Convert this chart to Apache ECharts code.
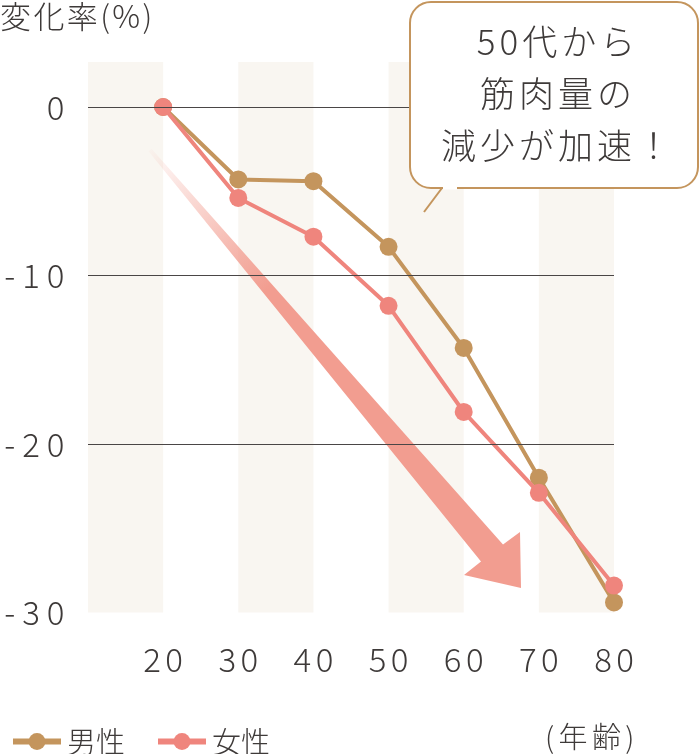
<!DOCTYPE html>
<html>
<head>
<meta charset="utf-8">
<script src="https://cdn.jsdelivr.net/npm/echarts@6/dist/echarts.min.js"></script>
<style>
html,body{margin:0;padding:0;background:#fff;}
#chart{width:700px;height:754px;}
</style>
</head>
<body>
<div id="chart"></div>
<script>
// ---- data ----
var ages = [20, 30, 40, 50, 60, 70, 80];
var maleValues = [0, -4.3, -4.4, -8.3, -14.3, -22.0, -29.4];
var femaleValues = [0, -5.4, -7.7, -11.8, -18.1, -22.9, -28.4];
var yGridTicks = [0, -10, -20];
var seriesNames = ['男性', '女性'];
var yTitle = '変化率(%)';
var xTitle = '(年齢)';
var calloutText = '50代から\n筋肉量の\n減少が加速！';

var FONT = '"Noto Sans CJK JP", "Noto Sans", sans-serif';
var TEXT = '#3e3a39';
var MALE = '#c4955d';
var FEMALE = '#ef857d';
var ARROW = '242,157,144';

// letter-spaced rich text helper
function spaced(str, key) {
  return String(str).split('\n').map(function (line) {
    return line.split('').map(function (c) { return '{' + key + '|' + c + '}'; }).join('');
  }).join('\n');
}

var chart = echarts.init(document.getElementById('chart'));

function pairs(vals) { return ages.map(function (a, i) { return [a, vals[i]]; }); }

var option = {
  animation: false,
  backgroundColor: '#fff',
  grid: { left: 88, right: 86, top: 62, bottom: 141.5, containLabel: false, outerBoundsMode: 'none' },
  xAxis: {
    type: 'value', min: 10, max: 80, interval: 10,
    axisLine: { show: false }, axisTick: { show: false }, splitLine: { show: false },
    splitArea: { show: true, areaStyle: { color: ['#f9f6f1', 'rgba(255,255,255,0)'] } },
    axisLabel: {
      margin: 30, color: TEXT, fontSize: 33, fontFamily: FONT, fontWeight: 300,
      formatter: function (v) { return v === 10 ? '' : spaced(v, 'd'); },
      rich: { d: { fontSize: 33, fontFamily: FONT, fontWeight: 300, color: TEXT, padding: [0, 2.2] } }
    }
  },
  yAxis: {
    type: 'value', min: -30, max: 2.67, interval: 10,
    axisLine: { show: false }, axisTick: { show: false }, splitLine: { show: false },
    axisLabel: {
      margin: 20, color: TEXT, fontSize: 33, fontFamily: FONT, fontWeight: 300,
      showMaxLabel: false,
      formatter: function (v) { return (v > 0) ? '' : spaced(v, 'd'); },
      rich: { d: { fontSize: 33, fontFamily: FONT, fontWeight: 300, color: TEXT, padding: [0, 3.5] } }
    }
  },
  legend: {
    data: seriesNames, left: 5, top: 722, itemWidth: 48, itemHeight: 21, itemGap: 30,
    lineStyle: { width: 6 },
    textStyle: { color: TEXT, fontSize: 29, fontFamily: FONT, fontWeight: 300, padding: [0, 0, 0, 1] }
  },
  series: [
    {
      name: seriesNames[0], type: 'line', data: pairs(maleValues),
      symbol: 'circle', symbolSize: 18, z: 3,
      lineStyle: { color: MALE, width: 4 }, itemStyle: { color: MALE },
      markLine: {
        silent: true, symbol: 'none', label: { show: false },
        lineStyle: { color: '#4a4646', width: 1, type: 'solid' },
        data: yGridTicks.map(function (t) { return { yAxis: t }; })
      }
    },
    {
      name: seriesNames[1], type: 'line', data: pairs(femaleValues),
      symbol: 'circle', symbolSize: 18, z: 4,
      lineStyle: { color: FEMALE, width: 4 }, itemStyle: { color: FEMALE }
    }
  ],
  graphic: [
    {
      type: 'text', left: 0, top: 1,
      style: {
        text: spaced(yTitle, 't'), fill: TEXT, font: '300 31px ' + FONT,
        rich: { t: { fontSize: 31, fontFamily: FONT, fontWeight: 300, fill: TEXT, padding: [0, 1.2] } }
      }
    },
    {
      type: 'text', left: 545, top: 722,
      style: {
        text: spaced(xTitle, 't'), fill: TEXT, font: '300 29px ' + FONT,
        rich: { t: { fontSize: 29, fontFamily: FONT, fontWeight: 300, fill: TEXT, padding: [0, 2.2] } }
      }
    },
    {
      type: 'polygon', z: 1, silent: true,
      shape: { points: [[151.5, 148.7], [503, 544.5], [520, 532], [521, 588], [464, 575], [481, 561.5], [148.5, 151.3]] },
      style: {
        fill: new echarts.graphic.LinearGradient(0, 0, 1, 1, [
          { offset: 0, color: 'rgba(' + ARROW + ',0.03)' },
          { offset: 0.32, color: 'rgba(' + ARROW + ',1)' },
          { offset: 1, color: 'rgba(' + ARROW + ',1)' }
        ])
      }
    },
    {
      type: 'rect', z: 100, silent: true,
      shape: { x: 410, y: 2, width: 288, height: 186, r: 21 },
      style: { fill: '#fff', stroke: MALE, lineWidth: 2 }
    },
    {
      type: 'rect', z: 101, silent: true,
      shape: { x: 443, y: 186.5, width: 14, height: 3 },
      style: { fill: '#fff' }
    },
    {
      type: 'line', z: 102, silent: true,
      shape: { x1: 442, y1: 188, x2: 424, y2: 212 },
      style: { stroke: MALE, lineWidth: 2 }
    },
    {
      type: 'text', z: 103, silent: true, x: 556, y: 94,
      style: {
        text: spaced(calloutText, 'c'), fill: TEXT, font: '300 35px ' + FONT,
        align: 'center', verticalAlign: 'middle', lineHeight: 52,
        rich: { c: { fontSize: 35, fontFamily: FONT, fontWeight: 300, fill: TEXT, lineHeight: 52, padding: [0, 2] } }
      }
    }
  ]
};
chart.setOption(option);
</script>
</body>
</html>
